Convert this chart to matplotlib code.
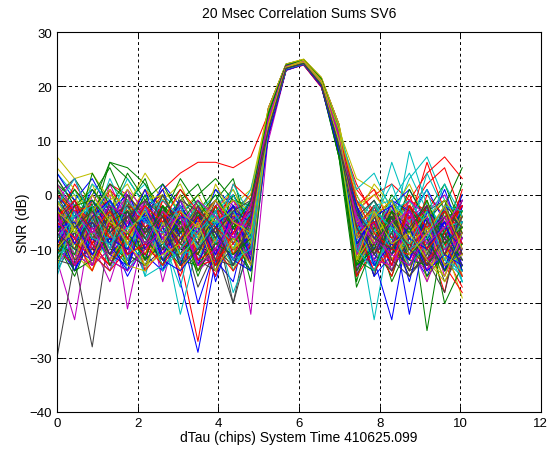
import numpy as np
import matplotlib
matplotlib.use("Agg")
import matplotlib.pyplot as plt

# dTau sample grid (chips)
dtau = np.linspace(0, 10.05, 24)

# left side lobes (dTau 0 .. 4.8), main peak (5.24 .. 6.99), right side lobes (7.43 .. 10.05)
left_lobe = [
    [-3, -6, 1, -4, -8, -2, -5, -1, -10, -4, 0, -6],
    [2, -1, -5, 6, 3, -2, 0, -7, -3, 1, -4, -2],
    [-7, -3, -9, -2, -5, 1, -4, -12, -27, -8, -3, 0],
    [4, 0, -3, -8, -1, 2, -6, -22, -9, -2, 1, -5],
    [-12, -23, -4, 0, -21, -6, -2, -8, -5, -13, -3, -22],
    [7, 3, 4, -1, 2, -4, 1, -3, 0, -6, -2, 1],
    [-30, -12, -28, -6, -3, -9, -5, -2, -7, -10, -20, -4],
    [-1, -5, -2, -10, -4, -7, -3, -16, -29, -12, -16, -3],
    [0, 3, -2, 6, 5, 2, -3, 1, -4, -1, 3, -8],
    [-2, 1, -3, 2, 0, -4, 1, 4, 6, 6, 5, 7],
    [-4, 1, -6, -2, -9, -14, -3, -8, -1, -5, -18, -10],
    [3, -2, -8, 2, -5, -1, -16, -4, -9, -2, 0, -6],
    [-9, -5, -1, -7, 0, -11, -2, -6, -3, -8, -14, -4],
    [-2, -8, -4, 1, -6, -3, -10, 0, -5, -1, -7, -2],
    [-6, -2, -11, -5, 1, -8, -4, -9, -2, -16, -6, -10],
    [1, -4, 0, 5, -2, 3, -6, -1, 2, -5, -3, -12],
    [-5, 2, -3, -1, -7, -4, 0, -6, -13, -3, -1, -5],
    [2, -7, -1, -4, 3, -2, -8, -17, -3, 0, -5, 1],
    [-8, -1, -6, -12, -3, -7, -1, -5, -10, -2, -9, -3],
    [0, -3, 2, -6, -4, 1, -2, -9, -1, -7, -11, -1],
    [-10, -4, -7, -2, -11, -5, -8, -3, -6, -14, -4, -9],
    [4, -1, 3, -3, 0, -5, 2, -2, -7, 1, -2, -4],
    [-6, -10, -2, -5, -13, -1, -7, -4, -11, -3, -8, -14],
    [-2, -6, -9, 1, -3, -10, -1, -5, -4, -7, 2, -1],
    [-15, -5, -3, -8, -2, -6, -12, -1, -6, -4, -10, -2],
    [-1, 3, -5, -9, 1, -3, -6, -2, -12, -8, -1, -7],
    [5, 1, -4, 0, -2, 4, -1, 2, -5, -3, 1, -6],
    [-4, -9, -2, -6, -1, -12, -3, -7, -2, -5, -20, -8],
    [-8, -3, -6, -1, -9, -2, -11, -6, -20, -10, -4, -7],
    [3, -2, 1, -3, 4, -1, 2, -4, 0, 3, -1, -2],
    [-3, -9, -1, -6, -4, -2, -7, -15, -5, -1, -6, -3],
    [1, -2, -6, 3, -4, -9, 0, -3, -1, -12, -5, -1],
    [-5, -12, 0, -4, -8, -1, -5, -10, -3, -6, -2, -9],
    [-2, 0, -8, -3, 1, -6, -4, 0, -8, 2, -4, 0],
    [-7, -3, -12, -1, -5, -8, -2, -11, -4, -3, -9, -5],
    [0, -4, -7, -2, -12, -3, 1, -8, -4, -6, -2, -11],
    [-4, 1, -3, 2, -1, -7, -4, 3, -2, -8, 0, -5],
    [-10, -2, -5, -9, -2, -4, -9, -3, -11, -2, -7, -4],
    [-1, -6, 2, -1, -6, 0, -3, -6, -2, -9, 2, -4],
    [-6, -1, -10, -5, 0, -8, -11, -1, -7, -3, -12, -2],
    [2, -5, -1, -8, -3, -1, 0, -5, -10, -4, -1, -3],
    [1, -3, -6, -9, 0, -4, -7, -1, -3, -8, -2, -6],
    [-9, -4, -1, -7, -3, -10, -5, -2, -13, -4, -8, -1],
    [-3, -8, 4, -2, -6, 0, -9, -5, -1, -6, -4, -16],
    [0, -3, -2, -8, -1, -6, -3, -10, -7, -2, -11, -6],
    [-2, 3, -5, -1, -10, -3, -1, -4, -8, -3, 0, -7],
    [-4, -8, -3, -11, -5, -2, -8, -3, -6, -1, -7, -3],
    [-1, -7, -3, 1, -9, -2, -5, -8, -2, -5, -3, -9],
    [-5, -1, -8, -4, -2, -7, 0, -6, -9, -1, -5, -3],
    [-2, -9, -4, -1, -6, 1, -9, -4, -5, -11, -3, -5],
    [-7, -2, -1, -5, -3, -9, -2, -7, -4, 0, -6, -1],
    [-4, -1, -7, -3, -8, -2, -5, 1, -3, -6, -9, -4],
    [-8, -4, -2, -10, -1, -5, -7, -2, -10, -5, -3, -8],
    [2, -3, -7, -2, -4, -9, -3, -6, -1, -4, -8, -2],
    [-3, -6, 0, -5, -7, -3, -9, -3, -6, -1, -5, -7],
    [0, -6, -3, -7, -4, -1, -4, -9, -2, -7, -3, -1],
    [-9, -14, -6, -3, -11, -7, -13, -4, -8, -15, -6, -11],
    [-5, -2, -10, -7, -4, -12, -3, -9, -14, -6, -10, -2],
    [-11, -7, -3, -13, -8, -2, -10, -6, -4, -11, -7, -9],
    [-2, -11, -8, -4, -14, -9, -6, -12, -3, -8, -13, -6],
    [-13, -5, -9, -16, -6, -4, -14, -8, -11, -5, -9, -12],
    [-6, -9, -13, -5, -2, -10, -7, -3, -9, -13, -4, -8],
    [-8, -3, -6, -11, -9, -5, -2, -13, -7, -4, -12, -5],
    [-4, -12, -7, -2, -8, -13, -5, -10, -6, -9, -3, -10],
    [-12, -6, -2, -9, -13, -3, -8, -5, -15, -7, -11, -4],
    [-3, -8, -11, -6, -4, -10, -12, -7, -2, -11, -5, -13],
    [-7, -13, -4, -10, -6, -15, -3, -9, -12, -4, -8, -6],
    [-10, -4, -8, -14, -3, -6, -11, -2, -9, -13, -6, -3],
    [-5, -10, -14, -3, -9, -11, -4, -13, -6, -2, -14, -9],
    [-14, -8, -5, -12, -7, -2, -9, -6, -17, -10, -5, -7],
    [-6, -2, -12, -8, -15, -9, -5, -11, -4, -7, -10, -14],
    [-9, -15, -7, -4, -10, -6, -13, -3, -8, -12, -2, -8],
    [-3, -7, -10, -13, -5, -12, -8, -14, -5, -9, -7, -4],
    [-11, -4, -6, -9, -12, -3, -10, -7, -13, -3, -11, -10],
    [-7, -12, -3, -6, -9, -14, -2, -10, -6, -14, -8, -5],
    [-4, -9, -13, -10, -2, -7, -12, -5, -11, -6, -4, -12],
    [-12, -5, -8, -3, -13, -10, -6, -12, -3, -10, -13, -7],
    [-8, -14, -5, -11, -7, -4, -14, -8, -10, -5, -9, -3],
    [-2, -6, -9, -5, -11, -13, -7, -3, -12, -8, -6, -11],
    [-10, -13, -4, -8, -3, -9, -11, -6, -7, -15, -3, -9],
    [-6, -3, -11, -14, -8, -5, -4, -13, -9, -4, -12, -2],
    [-13, -8, -6, -2, -10, -12, -9, -4, -14, -11, -7, -13],
    [-5, -11, -14, -7, -4, -8, -13, -10, -3, -6, -10, -6],
    [-9, -4, -7, -12, -14, -3, -6, -9, -11, -13, -4, -10],
    [-3, -10, -12, -4, -7, -11, -14, -2, -8, -5, -13, -7],
    [-11, -6, -3, -9, -12, -6, -3, -12, -13, -8, -6, -12],
    [-7, -13, -9, -5, -2, -14, -10, -6, -4, -12, -9, -4],
    [-14, -2, -6, -13, -9, -8, -5, -11, -10, -3, -14, -8],
    [-4, -8, -12, -7, -11, -2, -12, -7, -5, -10, -2, -11],
    [-8, -12, -4, -10, -5, -13, -7, -14, -9, -6, -11, -5],
    [-10, -5, -13, -3, -8, -10, -2, -8, -12, -14, -5, -13],
    [-5, -14, -8, -11, -13, -4, -11, -5, -7, -3, -12, -6],
    [-12, -7, -2, -6, -4, -12, -9, -13, -3, -9, -8, -10],
    [-2, -9, -11, -14, -10, -7, -4, -3, -13, -12, -4, -3],
    [-9, -3, -7, -8, -2, -15, -13, -10, -6, -4, -13, -9],
    [-6, -11, -13, -4, -12, -5, -8, -12, -2, -11, -7, -12],
    [-13, -5, -4, -12, -7, -9, -3, -6, -14, -8, -3, -5],
    [-3, -12, -10, -2, -11, -13, -10, -4, -9, -13, -10, -8],
    [-10, -7, -5, -9, -14, -3, -6, -13, -4, -7, -12, -14],
    [-7, -14, -12, -6, -3, -8, -12, -9, -11, -2, -6, -4],
    [-4, -2, -9, -13, -8, -11, -4, -3, -12, -10, -14, -9],
    [-11, -9, -3, -7, -12, -2, -14, -10, -6, -5, -9, -3],
    [-8, -4, -13, -10, -5, -9, -7, -2, -13, -11, -4, -11],
    [-2, -10, -7, -3, -13, -14, -5, -11, -8, -4, -10, -7],
    [-12, -13, -5, -11, -4, -6, -10, -7, -3, -12, -13, -5],
    [-6, -5, -11, -8, -10, -3, -12, -14, -10, -6, -2, -12],
    [-9, -11, -2, -13, -7, -12, -2, -5, -14, -9, -11, -8],
    [-5, -8, -14, -5, -11, -9, -13, -8, -4, -13, -7, -2],
    [-14, -3, -8, -9, -6, -4, -9, -12, -7, -3, -12, -10],
    [-3, -13, -6, -12, -14, -10, -6, -4, -13, -10, -5, -6],
    [-10, -6, -12, -4, -9, -13, -11, -9, -5, -14, -8, -13],
    [-7, -10, -4, -11, -3, -7, -4, -13, -10, -6, -13, -4],
]

peak = [
    [13, 23.4, 24.6, 20.6, 10], [15, 23.8, 24.4, 20.2, 8], [12, 23.2, 24.1, 20.9, 11],
    [14, 23.6, 24.8, 21.2, 12], [11, 23.1, 24.3, 20.0, 9], [16, 24.1, 25.0, 21.5, 12],
    [13, 23.5, 24.5, 20.4, 10], [12, 23.3, 24.2, 20.3, 9], [14, 23.7, 24.6, 20.8, 7],
    [15, 23.9, 24.4, 21.0, 11], [11, 23.0, 24.0, 20.1, 8], [13, 23.4, 24.7, 20.7, 10],
    [15, 23.9, 24.9, 21.3, 13], [12, 23.3, 24.3, 20.5, 9], [14, 23.6, 24.5, 20.4, 11],
    [13, 23.5, 24.6, 20.9, 8], [12, 23.2, 23.9, 19.8, 10], [14, 23.8, 24.7, 21.4, 12],
    [10, 22.9, 24.0, 19.9, 8], [16, 24.0, 24.9, 21.6, 13], [11, 23.1, 24.2, 20.2, 9],
    [13, 23.5, 24.4, 20.6, 10], [15, 23.7, 24.8, 20.1, 7], [12, 23.3, 24.1, 20.7, 11],
    [14, 23.6, 24.6, 21.1, 12], [11, 23.0, 24.2, 20.3, 9], [15, 23.8, 24.7, 21.0, 12],
    [12, 23.2, 24.3, 20.4, 10], [13, 23.4, 24.5, 20.8, 11], [14, 23.7, 24.6, 20.5, 8],
    [12, 23.1, 23.9, 20.0, 9], [14, 23.6, 24.5, 21.2, 11], [12, 23.3, 24.4, 20.6, 10],
    [16, 24.0, 24.8, 21.4, 13], [11, 23.0, 24.1, 20.2, 8], [13, 23.5, 24.6, 20.9, 10],
    [14, 23.6, 24.5, 20.3, 7], [13, 23.4, 24.2, 20.5, 10], [15, 23.9, 24.8, 21.3, 12],
    [11, 23.1, 24.0, 20.1, 9], [15, 23.8, 24.9, 21.5, 12], [12, 23.2, 24.3, 20.4, 9],
    [14, 23.6, 24.4, 20.6, 11], [13, 23.4, 24.7, 20.8, 8], [12, 23.1, 24.0, 20.0, 10],
    [14, 23.7, 24.6, 21.0, 12], [12, 23.2, 24.3, 20.3, 9], [16, 24.1, 25.0, 21.7, 13],
    [13, 23.4, 24.4, 20.5, 10], [12, 23.3, 24.2, 20.7, 10], [15, 23.8, 24.7, 21.2, 9],
    [13, 23.5, 24.5, 20.6, 11], [12, 23.2, 24.1, 20.4, 10], [14, 23.6, 24.6, 20.8, 11],
    [13, 23.5, 24.8, 21.1, 12], [12, 23.3, 24.2, 20.3, 9],
    [12, 23.2, 24.3, 20.4, 9], [14, 23.6, 24.5, 20.8, 11], [13, 23.4, 24.2, 20.5, 10],
    [11, 23.0, 24.1, 20.1, 8], [15, 23.8, 24.7, 21.1, 12], [13, 23.5, 24.6, 20.7, 10],
    [12, 23.3, 24.4, 20.3, 9], [14, 23.7, 24.6, 21.0, 11], [12, 23.1, 24.0, 20.2, 9],
    [16, 24.0, 24.9, 21.4, 13], [13, 23.4, 24.3, 20.6, 10], [12, 23.2, 24.2, 20.4, 9],
    [14, 23.6, 24.5, 20.9, 11], [13, 23.5, 24.6, 20.7, 10], [11, 23.0, 24.0, 20.0, 8],
    [15, 23.9, 24.8, 21.3, 12], [12, 23.3, 24.3, 20.5, 10], [14, 23.6, 24.6, 20.8, 11],
    [13, 23.4, 24.4, 20.6, 9], [12, 23.2, 24.1, 20.3, 10], [14, 23.7, 24.7, 21.0, 11],
    [13, 23.5, 24.5, 20.7, 10], [16, 24.1, 24.9, 21.5, 13], [11, 23.1, 24.1, 20.2, 8],
    [13, 23.4, 24.4, 20.5, 10], [12, 23.2, 24.2, 20.4, 9], [15, 23.8, 24.7, 21.2, 12],
    [14, 23.6, 24.6, 20.9, 11], [12, 23.3, 24.3, 20.4, 10], [13, 23.5, 24.5, 20.6, 10],
    [11, 23.0, 24.0, 20.1, 8], [14, 23.7, 24.6, 21.1, 12], [13, 23.4, 24.4, 20.5, 9],
    [12, 23.2, 24.2, 20.3, 10], [15, 23.9, 24.8, 21.3, 12], [13, 23.5, 24.6, 20.7, 11],
    [12, 23.3, 24.3, 20.4, 9], [14, 23.6, 24.5, 20.8, 11], [13, 23.4, 24.4, 20.6, 10],
    [16, 24.0, 24.9, 21.6, 13], [12, 23.1, 24.1, 20.2, 9], [13, 23.5, 24.5, 20.7, 10],
    [14, 23.7, 24.7, 21.0, 11], [12, 23.2, 24.2, 20.4, 9], [13, 23.4, 24.3, 20.5, 10],
    [15, 23.8, 24.8, 21.2, 12], [12, 23.3, 24.2, 20.3, 9], [14, 23.6, 24.6, 20.9, 11],
    [13, 23.5, 24.4, 20.6, 10], [11, 23.0, 24.0, 20.0, 8], [15, 23.9, 24.8, 21.4, 12],
    [13, 23.4, 24.5, 20.6, 10], [12, 23.2, 24.3, 20.4, 9], [14, 23.7, 24.6, 21.0, 11],
    [13, 23.5, 24.5, 20.7, 10], [12, 23.3, 24.2, 20.3, 9],
]

right_lobe = [
    [-6, -2, -9, -4, 1, -5, -3], [-16, -4, -1, -7, -3, 2, -6], [1, -3, -6, 0, -8, -18, -2],
    [-4, -23, -5, 3, 7, -1, -4], [-8, -2, -12, -6, -3, 0, -7], [3, 1, -3, 2, -5, -9, -19],
    [-10, -6, -2, -8, -4, -10, -6], [-7, -12, -23, -5, -2, -8, -1], [-17, -9, -5, -2, -25, -6, 0],
    [-3, 0, 2, -1, 4, 7, 3], [0, -6, 6, -3, -9, -4, -12], [-5, -8, -3, -11, -7, -2, -15],
    [-2, -10, -7, -1, -16, -5, -3], [-11, -3, -14, -8, -1, -13, -9], [-1, -5, -4, -22, -6, 1, -8],
    [-14, -7, 0, -4, -10, -2, 5], [-2, 1, -6, -3, 2, 5, -4], [-6, -2, -1, 4, -3, -7, -12],
    [-9, -12, -8, -2, -6, -3, -10], [-4, 2, -2, -6, -9, -14, -6], [-7, -4, -9, -12, -3, -1, -11],
    [-3, -7, -2, 1, -5, -8, 0], [-12, -5, -16, -9, -4, -20, -13], [2, -4, -1, -5, 6, -3, -7],
    [-5, -1, -9, 8, -2, -6, -16], [-10, -3, -6, -13, -8, -11, -1], [0, -6, -10, -3, -12, -16, -9],
    [-6, -15, -4, -2, -7, -5, -9], [-8, -3, -11, -6, -13, -2, -5], [-15, -8, -3, -10, -2, -7, 2],
    [-4, -9, -5, -1, -3, -10, 1], [-1, -4, 2, -7, 4, -3, -6], [-7, -11, -2, -9, -16, -8, -4],
    [-2, 0, -4, -8, -1, -12, -3], [-9, -7, -13, -5, -10, -4, -8], [-5, -10, -1, -3, -8, -14, -2],
    [-10, -2, -7, 1, -5, -1, -7], [-8, -5, -3, -10, 0, -4, -11], [1, 4, -3, -1, -6, 2, -4],
    [-3, -8, -14, -4, -2, -9, -12], [-1, -9, -2, -5, -11, -3, -15], [-4, -1, -6, -9, -12, -18, -5],
    [-2, -8, -5, -16, -3, -6, -10], [-13, -6, -11, -2, -8, -4, -3], [-6, -2, -8, -4, -13, -7, -2],
    [-3, -7, -1, -5, 1, -10, -5], [-11, -5, -9, -1, -4, -15, -8], [-5, -3, -12, -7, -4, -1, -6],
    [-2, -11, -7, -14, -5, -8, -1], [-9, -4, -2, -8, -10, -5, -14], [-12, -14, -4, -7, -1, -9, -6],
    [-1, -7, -10, -2, -6, -3, -9], [-7, -3, -6, -10, -8, -2, -3], [-4, -9, -5, -3, -9, -6, -1],
    [-8, -4, -1, -11, -7, -2, -10], [-3, -8, -10, -6, -2, -11, -4],
    [-9, -13, -6, -10, -15, -7, -12], [-5, -1, -10, -7, -12, -9, -4], [-12, -8, -4, -13, -6, -11, -17],
    [-3, -10, -14, -5, -9, -13, -7], [-7, -14, -9, -3, -11, -5, -13], [-10, -6, -12, -8, -14, -10, -3],
    [-6, -11, -3, -9, -7, -16, -10], [-14, -5, -8, -12, -3, -7, -9], [-4, -9, -15, -6, -10, -3, -14],
    [-11, -3, -7, -14, -5, -12, -8], [-8, -12, -5, -2, -13, -9, -16], [-2, -8, -11, -7, -4, -14, -5],
    [-13, -4, -9, -15, -8, -2, -11], [-5, -15, -3, -10, -12, -6, -9], [-9, -6, -13, -4, -8, -11, -2],
    [-4, -10, -7, -12, -2, -9, -13], [-11, -7, -2, -9, -14, -4, -6], [-6, -13, -10, -5, -7, -12, -15],
    [-15, -2, -11, -8, -13, -5, -8], [-3, -9, -6, -13, -10, -15, -4], [-10, -5, -13, -3, -6, -8, -12],
    [-7, -12, -4, -11, -9, -3, -10], [-12, -8, -9, -6, -15, -11, -7], [-5, -3, -12, -9, -4, -13, -18],
    [-9, -14, -7, -2, -11, -6, -3], [-14, -6, -3, -12, -7, -10, -11], [-2, -10, -14, -7, -3, -9, -6],
    [-8, -4, -9, -14, -12, -2, -9], [-13, -11, -5, -8, -2, -14, -10], [-6, -2, -10, -13, -9, -7, -14],
    [-11, -9, -15, -4, -12, -8, -2], [-3, -13, -6, -10, -5, -12, -9], [-10, -6, -2, -11, -14, -4, -12],
    [-7, -12, -13, -6, -3, -10, -5], [-12, -4, -8, -15, -10, -13, -8], [-4, -15, -11, -3, -8, -5, -13],
    [-9, -7, -4, -12, -13, -9, -3], [-15, -10, -12, -7, -2, -11, -7], [-5, -13, -8, -10, -11, -3, -16],
    [-10, -3, -13, -5, -14, -8, -10], [-13, -8, -5, -14, -6, -12, -4], [-3, -11, -14, -8, -10, -2, -11],
    [-8, -5, -9, -12, -4, -14, -7], [-14, -9, -3, -6, -13, -7, -12], [-6, -14, -10, -11, -5, -9, -15],
    [-11, -2, -7, -13, -9, -6, -5], [-4, -12, -13, -3, -12, -10, -8], [-12, -7, -5, -9, -6, -13, -11],
    [-9, -4, -12, -15, -11, -3, -6], [-2, -13, -9, -6, -14, -11, -13], [-13, -10, -3, -11, -8, -14, -9],
    [-7, -5, -13, -2, -10, -6, -2], [-10, -14, -6, -9, -3, -12, -14], [-5, -8, -11, -13, -7, -4, -10],
    [-12, -3, -9, -7, -12, -15, -7], [-6, -11, -4, -10, -13, -8, -13],
]

# old MATLAB colour order
colors = [(0, 0, 1), (0, 0.5, 0), (1, 0, 0), (0, 0.75, 0.75),
          (0.75, 0, 0.75), (0.75, 0.75, 0), (0.25, 0.25, 0.25)]

plt.rcParams['font.family'] = ['Liberation Sans', 'DejaVu Sans']

fig = plt.figure(figsize=(5.48, 4.56), dpi=100)
ax = fig.add_axes([0.104, 0.0943, 0.883, 0.8333])

# interleave the two halves so the lower traces are not all drawn on top
n = len(left_lobe)
half = n // 2
order = []
for k in range(half):
    order.append(k)
    order.append(k + half)

for i in order:
    snr = left_lobe[i] + peak[i] + right_lobe[i]
    ax.plot(dtau, snr, color=colors[i % len(colors)], linewidth=0.75)

ax.set_xlim(0, 12)
ax.set_ylim(-40, 30)
ax.set_xticks(np.arange(0, 13, 2))
ax.set_yticks(np.arange(-40, 31, 10))
ax.grid(True, color='black', linestyle=(0, (3, 3)), linewidth=0.7)
ax.tick_params(direction='in', top=True, right=True, labelsize=9.5, length=4, width=0.7)
for s in ax.spines.values():
    s.set_linewidth(0.8)

ax.set_title("20 Msec Correlation Sums SV6", fontsize=10, pad=11)
ax.set_xlabel("dTau (chips) System Time 410625.099", fontsize=10, labelpad=1)
ax.set_ylabel("SNR (dB)", fontsize=10, labelpad=0)

fig.savefig("out.png", dpi=100)
